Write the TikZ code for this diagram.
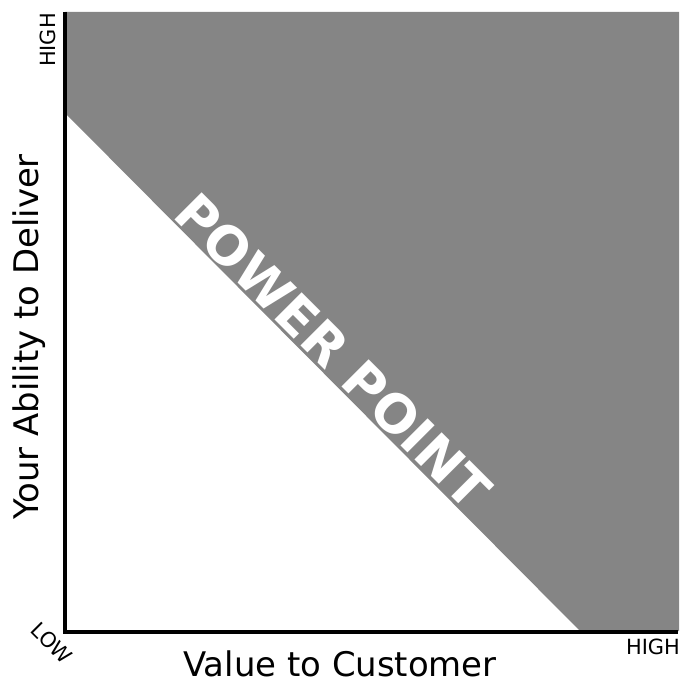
\documentclass[tikz,border=0pt]{standalone}
\usepackage{fontspec}
\setmainfont{DejaVu Sans}
\usepackage{tikz}
\usetikzlibrary{positioning, calc}

\definecolor{zonegray}{RGB}{133,133,133}

\begin{document}
\begin{tikzpicture}[
    x=0.02cm, y=-0.02cm,
    axis/.style={line width=2.2pt, line join=miter},
    zone/.style={fill=zonegray, draw=none},
    axislabel/.style={inner sep=0pt, font=\fontsize{19.3}{23}\selectfont},
    ticklabel/.style={inner sep=0pt, font=\fontsize{11.9}{14}\selectfont},
    bigword/.style={inner sep=0pt, text=white, font=\fontsize{30}{36}\selectfont\bfseries}
]
    \useasboundingbox (0,0) rectangle (685,685);

    \coordinate (origin) at (65,632);
    \coordinate (ytop) at (65,12);
    \coordinate (xend) at (678,632);

    % shaded upper zone
    \fill[zone] (65,113) -- (65,12) -- (679,12) -- (679,631) -- (580,631) -- cycle;

    \draw[axis] (ytop) -- (origin) -- (xend);

    \node[bigword, anchor=base, rotate=-45] (power) at (320,365) {POWER POINT};

    \node[axislabel, anchor=base] (xlabel) at (340,676) {Value to Customer};
    \node[axislabel, anchor=base, rotate=90] (ylabel) at (38,337) {Your Ability to Deliver};

    \node[ticklabel, anchor=base, rotate=90] (yhigh) at (55,40) {HIGH};
    \node[ticklabel, anchor=base] (xhigh) at (653,654) {HIGH};
    \node[ticklabel, anchor=center, rotate=-45] (low) at (52,643) {LOW};
\end{tikzpicture}
\end{document}
